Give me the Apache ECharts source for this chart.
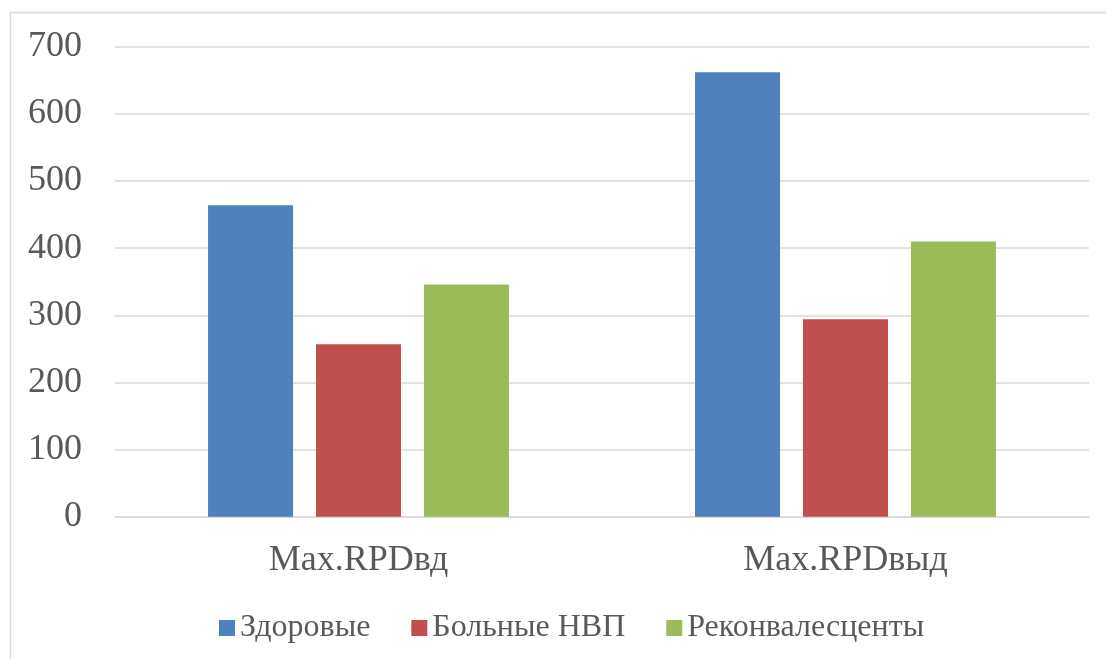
<!DOCTYPE html>
<html>
<head>
<meta charset="utf-8">
<script src="https://cdn.jsdelivr.net/npm/echarts@6/dist/echarts.min.js"></script>
<style>
  html, body { margin: 0; padding: 0; background: #fff; }
  #chart { width: 1106px; height: 659px; }
</style>
</head>
<body>
<div id="chart"></div>
<script>
// Categories and values per group
const categories = ['Max.RPDвд', 'Max.RPDвыд'];
const seriesNames = ['Здоровые', 'Больные НВП', 'Реконвалесценты'];
const healthy = [464, 662];
const patients = [257, 294];
const convalescents = [346, 410];
const yTicks = [0, 100, 200, 300, 400, 500, 600, 700];

const colors = ['#4f81bd', '#c0504d', '#9bbb59'];
const font = '"Liberation Serif", "Times New Roman", serif';
const textColor = '#595959';

const chart = echarts.init(document.getElementById('chart'));
const seriesData = [healthy, patients, convalescents];

chart.setOption({
  animation: false,
  backgroundColor: '#ffffff',
  graphic: [{
    type: 'rect',
    shape: { x: 10.5, y: 12.5, width: 1110, height: 700 },
    style: { fill: 'none', stroke: '#d9d9d9', lineWidth: 1.5 },
    silent: true
  }],
  grid: { left: 115, right: 17, top: 46.7, bottom: 142.3, containLabel: false },
  legend: {
    data: seriesNames,
    left: 214,
    top: 607,
    icon: 'rect',
    itemWidth: 16,
    itemHeight: 16,
    itemGap: 41,
    textStyle: { fontFamily: font, fontSize: 32, color: textColor, padding: [0, 0, 0, 0] }
  },
  xAxis: {
    type: 'category',
    data: categories,
    axisLine: { show: true, lineStyle: { color: '#d9d9d9', width: 1.5 } },
    axisTick: { show: false },
    axisLabel: { fontFamily: font, fontSize: 36, color: textColor, margin: 26 }
  },
  yAxis: {
    type: 'value',
    min: yTicks[0],
    max: yTicks[yTicks.length - 1],
    interval: 100,
    axisLine: { show: false },
    axisTick: { show: false },
    splitLine: { lineStyle: { color: '#d9d9d9', width: 1.5 } },
    axisLabel: { fontFamily: font, fontSize: 36, color: textColor, margin: 33 }
  },
  series: seriesNames.map((name, i) => ({
    name: name,
    type: 'bar',
    data: seriesData[i],
    barWidth: 85,
    barGap: '27%',
    itemStyle: { color: colors[i] }
  }))
});
</script>
</body>
</html>
